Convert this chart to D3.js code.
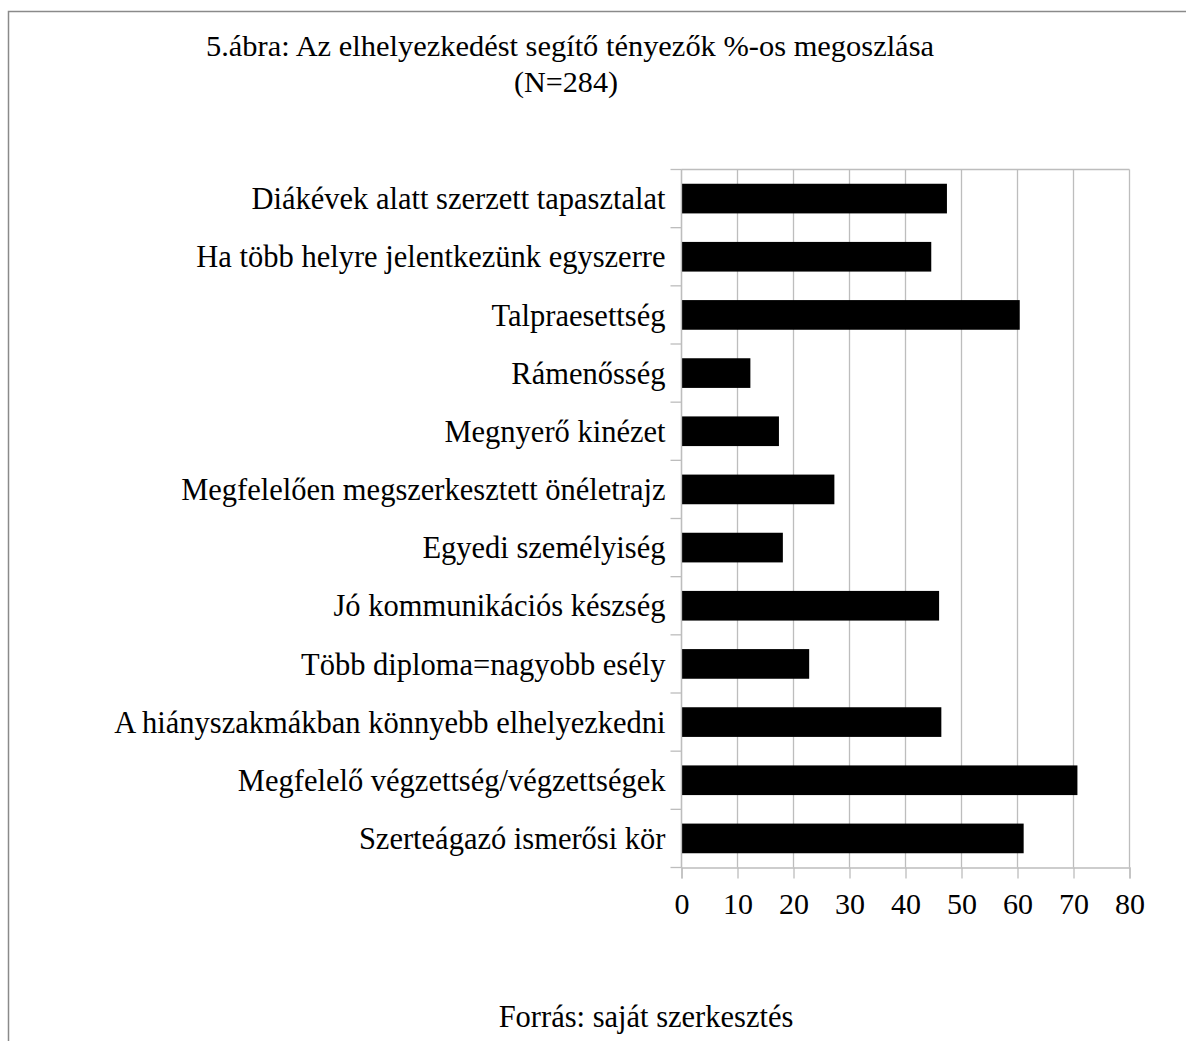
<!DOCTYPE html>
<html>
<head>
<meta charset="utf-8">
<script src="https://cdn.jsdelivr.net/npm/d3@7"></script>
<style>
  body { margin: 0; background: #fff; }
  text { font-family: "Liberation Serif", "Times New Roman", serif; fill: #000; }
</style>
</head>
<body>
<svg id="chart"></svg>
<script>
const WIDTH = 1186;
const HEIGHT = 1041;

const categories = [
  'Diákévek alatt szerzett tapasztalat',
  'Ha több helyre jelentkezünk egyszerre',
  'Talpraesettség',
  'Rámenősség',
  'Megnyerő kinézet',
  'Megfelelően megszerkesztett önéletrajz',
  'Egyedi személyiség',
  'Jó kommunikációs készség',
  'Több diploma=nagyobb esély',
  'A hiányszakmákban könnyebb elhelyezkedni',
  'Megfelelő végzettség/végzettségek',
  'Szerteágazó ismerősi kör'
];
const values = [47.4, 44.6, 60.4, 12.3, 17.4, 27.3, 18.1, 46.0, 22.8, 46.4, 70.7, 61.1];
const xTicks = [0, 10, 20, 30, 40, 50, 60, 70, 80];

const titleLines = ['5.ábra: Az elhelyezkedést segítő tényezők %-os megoszlása', '(N=284)'];
const sourceText = 'Forrás: saját szerkesztés';

const margin = {top: 169.5, left: 681.5, right: WIDTH - 1129.5, bottom: HEIGHT - 867.5};
const plotW = WIDTH - margin.left - margin.right;
const plotH = HEIGHT - margin.top - margin.bottom;

const svg = d3.select('#chart')
  .attr('width', WIDTH)
  .attr('height', HEIGHT);

// outer frame (cut off on the right and bottom)
svg.append('rect')
  .attr('x', 8.5).attr('y', 11.5)
  .attr('width', WIDTH + 20).attr('height', HEIGHT + 20)
  .attr('fill', 'none')
  .attr('stroke', '#8a8a8a')
  .attr('stroke-width', 1.5);

svg.append('text')
  .attr('x', 570).attr('y', 56)
  .attr('text-anchor', 'middle')
  .attr('textLength', 728)
  .attr('lengthAdjust', 'spacingAndGlyphs')
  .style('font-size', '30px')
  .text(titleLines[0]);

svg.append('text')
  .attr('x', 566).attr('y', 92)
  .attr('text-anchor', 'middle')
  .attr('textLength', 104)
  .attr('lengthAdjust', 'spacingAndGlyphs')
  .style('font-size', '30px')
  .text(titleLines[1]);

const g = svg.append('g')
  .attr('transform', `translate(${margin.left},${margin.top})`);

const x = d3.scaleLinear().domain([0, 80]).range([0, plotW]);
const y = d3.scaleBand().domain(categories).range([0, plotH]).paddingInner(0.49).paddingOuter(0.245);
const yEdges = d3.scaleLinear().domain([0, categories.length]).range([0, plotH]);

// vertical gridlines
g.selectAll('.grid')
  .data(xTicks)
  .enter().append('line')
  .attr('class', 'grid')
  .attr('x1', d => x(d)).attr('x2', d => x(d))
  .attr('y1', 0).attr('y2', plotH)
  .attr('stroke', '#bdbdbd')
  .attr('stroke-width', 1.3);

// top border of plot
g.append('line')
  .attr('x1', 0).attr('x2', plotW)
  .attr('y1', 0).attr('y2', 0)
  .attr('stroke', '#bdbdbd')
  .attr('stroke-width', 1.3);

// y axis tick marks at band edges
g.selectAll('.ytick')
  .data(d3.range(categories.length + 1))
  .enter().append('line')
  .attr('x1', -11).attr('x2', 0)
  .attr('y1', d => yEdges(d)).attr('y2', d => yEdges(d))
  .attr('stroke', '#bdbdbd')
  .attr('stroke-width', 1.3);

// bars
g.selectAll('.bar')
  .data(values)
  .enter().append('rect')
  .attr('class', 'bar')
  .attr('x', 0)
  .attr('y', (d, i) => y(categories[i]))
  .attr('width', d => x(d))
  .attr('height', y.bandwidth())
  .attr('fill', '#000');

// category labels
g.selectAll('.ylabel')
  .data(categories)
  .enter().append('text')
  .attr('class', 'ylabel')
  .attr('x', -16)
  .attr('y', d => y(d) + y.bandwidth() / 2)
  .attr('dy', '0.35em')
  .attr('text-anchor', 'end')
  .style('font-size', '30.5px')
  .text(d => d);

// x axis
const xAxis = g.append('g')
  .attr('transform', `translate(0,${plotH})`)
  .call(d3.axisBottom(x).tickValues(xTicks).tickSize(11).tickPadding(14));
xAxis.select('.domain').attr('stroke', '#bdbdbd').attr('stroke-width', 1.3);
xAxis.selectAll('.tick line').attr('stroke', '#bdbdbd').attr('stroke-width', 1.3);
xAxis.selectAll('.tick text')
  .attr('fill', '#000')
  .style('font-family', '"Liberation Serif", serif')
  .style('font-size', '30px');

// y axis line
g.append('line')
  .attr('x1', 0).attr('x2', 0)
  .attr('y1', 0).attr('y2', plotH)
  .attr('stroke', '#bdbdbd')
  .attr('stroke-width', 1.3);

svg.append('text')
  .attr('x', 646).attr('y', 1027)
  .attr('text-anchor', 'middle')
  .style('font-size', '30.5px')
  .text(sourceText);
</script>
</body>
</html>
